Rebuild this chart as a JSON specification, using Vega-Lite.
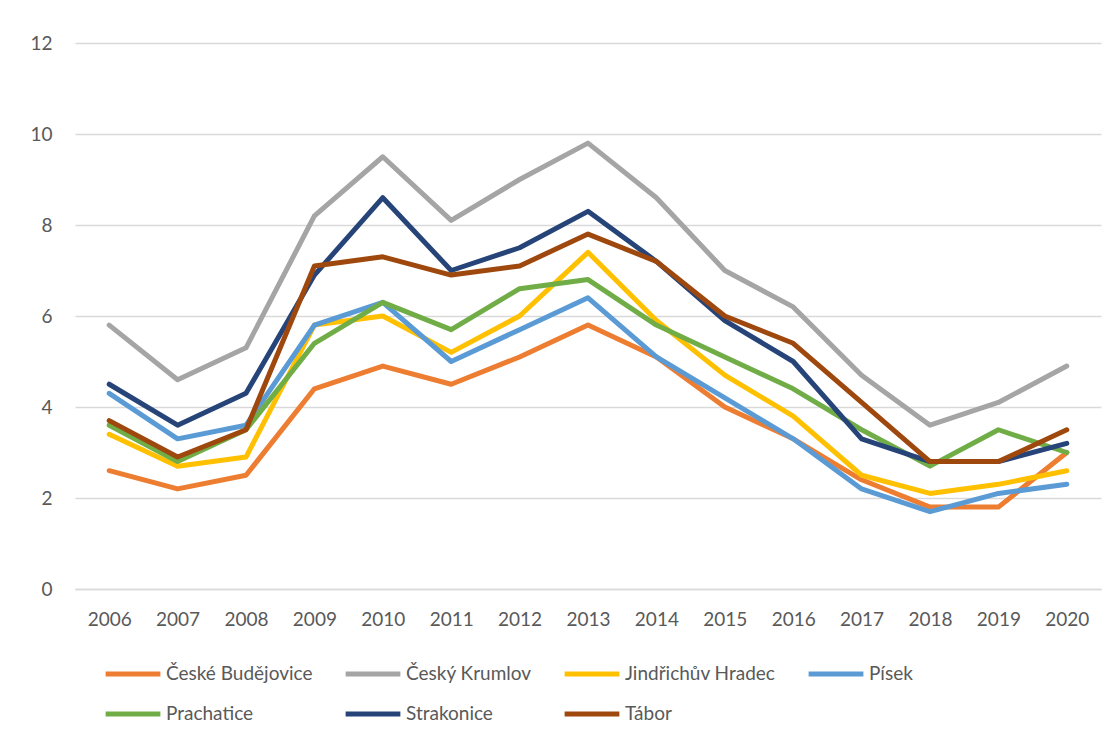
{
  "$schema": "https://vega.github.io/schema/vega-lite/v6.json",
  "width": 1026,
  "height": 546,
  "autosize": {"type": "none"},
  "padding": {"left": 75, "top": 43, "right": 15, "bottom": 153},
  "background": "white",
  "config": {
    "font": "Lato",
    "view": {"stroke": null}
  },
  "data": {
    "values": [
      {"year": "2006", "region": "České Budějovice", "value": 2.6},
      {"year": "2007", "region": "České Budějovice", "value": 2.2},
      {"year": "2008", "region": "České Budějovice", "value": 2.5},
      {"year": "2009", "region": "České Budějovice", "value": 4.4},
      {"year": "2010", "region": "České Budějovice", "value": 4.9},
      {"year": "2011", "region": "České Budějovice", "value": 4.5},
      {"year": "2012", "region": "České Budějovice", "value": 5.1},
      {"year": "2013", "region": "České Budějovice", "value": 5.8},
      {"year": "2014", "region": "České Budějovice", "value": 5.1},
      {"year": "2015", "region": "České Budějovice", "value": 4.0},
      {"year": "2016", "region": "České Budějovice", "value": 3.3},
      {"year": "2017", "region": "České Budějovice", "value": 2.4},
      {"year": "2018", "region": "České Budějovice", "value": 1.8},
      {"year": "2019", "region": "České Budějovice", "value": 1.8},
      {"year": "2020", "region": "České Budějovice", "value": 3.0},
      {"year": "2006", "region": "Český Krumlov", "value": 5.8},
      {"year": "2007", "region": "Český Krumlov", "value": 4.6},
      {"year": "2008", "region": "Český Krumlov", "value": 5.3},
      {"year": "2009", "region": "Český Krumlov", "value": 8.2},
      {"year": "2010", "region": "Český Krumlov", "value": 9.5},
      {"year": "2011", "region": "Český Krumlov", "value": 8.1},
      {"year": "2012", "region": "Český Krumlov", "value": 9.0},
      {"year": "2013", "region": "Český Krumlov", "value": 9.8},
      {"year": "2014", "region": "Český Krumlov", "value": 8.6},
      {"year": "2015", "region": "Český Krumlov", "value": 7.0},
      {"year": "2016", "region": "Český Krumlov", "value": 6.2},
      {"year": "2017", "region": "Český Krumlov", "value": 4.7},
      {"year": "2018", "region": "Český Krumlov", "value": 3.6},
      {"year": "2019", "region": "Český Krumlov", "value": 4.1},
      {"year": "2020", "region": "Český Krumlov", "value": 4.9},
      {"year": "2006", "region": "Jindřichův Hradec", "value": 3.4},
      {"year": "2007", "region": "Jindřichův Hradec", "value": 2.7},
      {"year": "2008", "region": "Jindřichův Hradec", "value": 2.9},
      {"year": "2009", "region": "Jindřichův Hradec", "value": 5.8},
      {"year": "2010", "region": "Jindřichův Hradec", "value": 6.0},
      {"year": "2011", "region": "Jindřichův Hradec", "value": 5.2},
      {"year": "2012", "region": "Jindřichův Hradec", "value": 6.0},
      {"year": "2013", "region": "Jindřichův Hradec", "value": 7.4},
      {"year": "2014", "region": "Jindřichův Hradec", "value": 5.9},
      {"year": "2015", "region": "Jindřichův Hradec", "value": 4.7},
      {"year": "2016", "region": "Jindřichův Hradec", "value": 3.8},
      {"year": "2017", "region": "Jindřichův Hradec", "value": 2.5},
      {"year": "2018", "region": "Jindřichův Hradec", "value": 2.1},
      {"year": "2019", "region": "Jindřichův Hradec", "value": 2.3},
      {"year": "2020", "region": "Jindřichův Hradec", "value": 2.6},
      {"year": "2006", "region": "Písek", "value": 4.3},
      {"year": "2007", "region": "Písek", "value": 3.3},
      {"year": "2008", "region": "Písek", "value": 3.6},
      {"year": "2009", "region": "Písek", "value": 5.8},
      {"year": "2010", "region": "Písek", "value": 6.3},
      {"year": "2011", "region": "Písek", "value": 5.0},
      {"year": "2012", "region": "Písek", "value": 5.7},
      {"year": "2013", "region": "Písek", "value": 6.4},
      {"year": "2014", "region": "Písek", "value": 5.1},
      {"year": "2015", "region": "Písek", "value": 4.2},
      {"year": "2016", "region": "Písek", "value": 3.3},
      {"year": "2017", "region": "Písek", "value": 2.2},
      {"year": "2018", "region": "Písek", "value": 1.7},
      {"year": "2019", "region": "Písek", "value": 2.1},
      {"year": "2020", "region": "Písek", "value": 2.3},
      {"year": "2006", "region": "Prachatice", "value": 3.6},
      {"year": "2007", "region": "Prachatice", "value": 2.8},
      {"year": "2008", "region": "Prachatice", "value": 3.5},
      {"year": "2009", "region": "Prachatice", "value": 5.4},
      {"year": "2010", "region": "Prachatice", "value": 6.3},
      {"year": "2011", "region": "Prachatice", "value": 5.7},
      {"year": "2012", "region": "Prachatice", "value": 6.6},
      {"year": "2013", "region": "Prachatice", "value": 6.8},
      {"year": "2014", "region": "Prachatice", "value": 5.8},
      {"year": "2015", "region": "Prachatice", "value": 5.1},
      {"year": "2016", "region": "Prachatice", "value": 4.4},
      {"year": "2017", "region": "Prachatice", "value": 3.5},
      {"year": "2018", "region": "Prachatice", "value": 2.7},
      {"year": "2019", "region": "Prachatice", "value": 3.5},
      {"year": "2020", "region": "Prachatice", "value": 3.0},
      {"year": "2006", "region": "Strakonice", "value": 4.5},
      {"year": "2007", "region": "Strakonice", "value": 3.6},
      {"year": "2008", "region": "Strakonice", "value": 4.3},
      {"year": "2009", "region": "Strakonice", "value": 6.9},
      {"year": "2010", "region": "Strakonice", "value": 8.6},
      {"year": "2011", "region": "Strakonice", "value": 7.0},
      {"year": "2012", "region": "Strakonice", "value": 7.5},
      {"year": "2013", "region": "Strakonice", "value": 8.3},
      {"year": "2014", "region": "Strakonice", "value": 7.2},
      {"year": "2015", "region": "Strakonice", "value": 5.9},
      {"year": "2016", "region": "Strakonice", "value": 5.0},
      {"year": "2017", "region": "Strakonice", "value": 3.3},
      {"year": "2018", "region": "Strakonice", "value": 2.8},
      {"year": "2019", "region": "Strakonice", "value": 2.8},
      {"year": "2020", "region": "Strakonice", "value": 3.2},
      {"year": "2006", "region": "Tábor", "value": 3.7},
      {"year": "2007", "region": "Tábor", "value": 2.9},
      {"year": "2008", "region": "Tábor", "value": 3.5},
      {"year": "2009", "region": "Tábor", "value": 7.1},
      {"year": "2010", "region": "Tábor", "value": 7.3},
      {"year": "2011", "region": "Tábor", "value": 6.9},
      {"year": "2012", "region": "Tábor", "value": 7.1},
      {"year": "2013", "region": "Tábor", "value": 7.8},
      {"year": "2014", "region": "Tábor", "value": 7.2},
      {"year": "2015", "region": "Tábor", "value": 6.0},
      {"year": "2016", "region": "Tábor", "value": 5.4},
      {"year": "2017", "region": "Tábor", "value": 4.1},
      {"year": "2018", "region": "Tábor", "value": 2.8},
      {"year": "2019", "region": "Tábor", "value": 2.8},
      {"year": "2020", "region": "Tábor", "value": 3.5}
    ]
  },
  "mark": {"type": "line", "strokeWidth": 5, "strokeJoin": "round", "strokeCap": "round"},
  "encoding": {
    "x": {
      "field": "year",
      "type": "ordinal",
      "scale": {"type": "point", "padding": 0.5},
      "axis": {
        "title": null,
        "labelAngle": 0,
        "labelFontSize": 19,
        "labelColor": "#595959",
        "labelPadding": 21,
        "ticks": false,
        "domain": true,
        "domainColor": "#D9D9D9",
        "domainWidth": 1.5,
        "grid": false
      }
    },
    "y": {
      "field": "value",
      "type": "quantitative",
      "scale": {"domain": [0, 12], "nice": false},
      "axis": {
        "title": null,
        "values": [0, 2, 4, 6, 8, 10, 12],
        "labelFontSize": 19,
        "labelColor": "#595959",
        "labelPadding": 23,
        "ticks": false,
        "domain": false,
        "gridColor": "#D9D9D9",
        "gridWidth": 1.5
      }
    },
    "color": {
      "field": "region",
      "type": "nominal",
      "sort": ["České Budějovice", "Český Krumlov", "Jindřichův Hradec", "Písek", "Prachatice", "Strakonice", "Tábor"],
      "scale": {
        "domain": ["České Budějovice", "Český Krumlov", "Jindřichův Hradec", "Písek", "Prachatice", "Strakonice", "Tábor"],
        "range": ["#ED7D31", "#A5A5A5", "#FFC000", "#5B9BD5", "#70AD47", "#264478", "#9E480E"]
      },
      "legend": {
        "title": null,
        "orient": "none",
        "legendX": 28,
        "legendY": 601,
        "direction": "horizontal",
        "columns": 4,
        "symbolType": "stroke",
        "symbolSize": 3000,
        "symbolStrokeWidth": 5,
        "labelFontSize": 19,
        "labelColor": "#595959",
        "labelOffset": 3,
        "labelLimit": 400,
        "columnPadding": 22,
        "rowPadding": -1
      }
    }
  }
}
